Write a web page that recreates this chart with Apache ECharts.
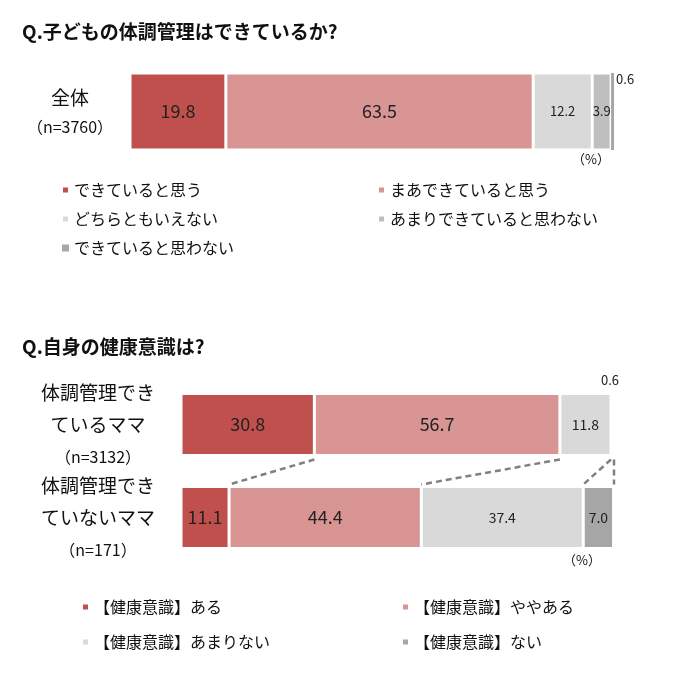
<!DOCTYPE html>
<html><head><meta charset="utf-8">
<script src="https://cdn.jsdelivr.net/npm/echarts@6/dist/echarts.min.js"></script>
<style>html,body{margin:0;background:#fff}#c{width:680px;height:678px}</style>
</head><body><div id="c"></div>
<script>
var cats1 = ['全体'];
var n1 = ['3760'];
var names1 = ['できていると思う','まあできていると思う','どちらともいえない','あまりできていると思わない','できていると思わない'];
var vals1 = [[19.8],[63.5],[12.2],[3.9],[0.6]];
var cats2 = ['体調管理できていないママ','体調管理できているママ'];
var n2 = ['171','3132'];
var names2 = ['【健康意識】ある','【健康意識】ややある','【健康意識】あまりない','【健康意識】ない'];
var vals2 = [[11.1,30.8],[44.4,56.7],[37.4,11.8],[7.0,0.6]];

var col1 = ['#c0504d','#d99594','#d9d9d9','#bfbfbf','#a6a6a6'];
var col2 = ['#c0504d','#d99594','#d9d9d9','#a6a6a6'];
var FONT = '"Noto Sans CJK JP", sans-serif';
var fmt = function(p){return Number(p.value).toFixed(1);};

var series = [];
names1.forEach(function(n,i){
  var small = vals1[i][0] < 15;
  var lab = {show:true, color:'#222', fontSize: small?13:18, fontFamily:FONT, formatter:fmt};
  if (i===4) { lab.position=[5,0]; lab.fontSize=13; }
  series.push({name:n,type:'bar',stack:'a',xAxisIndex:0,yAxisIndex:0,barWidth:77,
    data:vals1[i],itemStyle:{color:col1[i],borderColor:'#fff',borderWidth:i===4?0:1.5},label:lab});
});
names2.forEach(function(n,i){
  series.push({name:n,type:'bar',stack:'b',xAxisIndex:1,yAxisIndex:1,barWidth:62,
    data:vals2[i].map(function(v,j){
      var fs = (i===2||i===3) ? 14 : 18;
      var o = {value:v,label:{show:true,color:'#222',fontSize:fs,fontFamily:FONT,formatter:fmt}};
      if (i===3 && j===1) { o.label.position=[-10,-20]; o.label.fontSize=13; }
      return o;
    }),
    itemStyle:{color:col2[i],borderColor:'#fff',borderWidth:1.5}});
});

var chart = echarts.init(document.getElementById('c'));
var cmap = {};
names1.forEach(function(n,i){cmap[n]=col1[i];});
names2.forEach(function(n,i){cmap[n]=col2[i];});
var lg = function(names, left, top, gap){
  return {data:names.map(function(n){return {name:n,itemStyle:{color:cmap[n]}};}),
    left:left, top:top, orient:'vertical', itemGap:gap, itemWidth:7, itemHeight:7, icon:'rect',
    selectedMode:false, textStyle:{fontSize:16,color:'#111',fontFamily:FONT}};
};

chart.setOption({
  animation:false,
  textStyle:{fontFamily:FONT},
  grid:[{left:130,width:484,top:73,height:77},{left:181,width:433,top:378,height:186}],
  xAxis:[{gridIndex:0,type:'value',min:0,max:100,show:false},{gridIndex:1,type:'value',min:0,max:100,show:false}],
  yAxis:[
    {gridIndex:0,type:'category',data:cats1,axisLine:{show:false},axisTick:{show:false},offset:40,
     axisLabel:{margin:20,align:'center',formatter:function(v,i){return '{a|'+v+'}\n{b|（n='+n1[i]+'）}';},
       rich:{a:{fontSize:19,color:'#111',lineHeight:30},b:{fontSize:16,color:'#111',lineHeight:28}}}},
    {gridIndex:1,type:'category',data:cats2,axisLine:{show:false},axisTick:{show:false},offset:75,
     axisLabel:{align:'center',formatter:function(v,i){var s=v.slice(0,6), t=v.slice(6);return '{a|'+s+'}\n{a|'+t+'}\n{b|（n='+n2[i]+'）}';},
       rich:{a:{fontSize:19,color:'#111',lineHeight:32},b:{fontSize:16,color:'#111',lineHeight:32}}}}
  ],
  legend:[
    lg([names1[0],names1[2],names1[4]],56,177,13),
    lg([names1[1],names1[3]],372,177,13),
    lg([names2[0],names2[2]],76,594,19),
    lg([names2[1],names2[3]],396,594,19)
  ],
  series:series,
  graphic:[
    {type:'text',left:22,top:22,style:{text:'Q.子どもの体調管理はできているか?',fontSize:19,fontWeight:'bold',fill:'#111',fontFamily:FONT}},
    {type:'text',left:22,top:337,style:{text:'Q.自身の健康意識は?',fontSize:19,fontWeight:'bold',fill:'#111',fontFamily:FONT}},
    {type:'text',left:572,top:153,style:{text:'（%）',fontSize:13,fill:'#111',fontFamily:FONT}},
    {type:'text',left:563,top:554,style:{text:'（%）',fontSize:13,fill:'#111',fontFamily:FONT}}
  ]
});

var cum = function(j,k){var s=0;for(var i=0;i<k;i++)s+=vals2[i][j];return s;};
var yTop = chart.convertToPixel({yAxisIndex:1},1) + 31 + 4;
var yBot = chart.convertToPixel({yAxisIndex:1},0) - 31 - 2;
var lines = [];
[1,2,3,4].forEach(function(k){
  var x1 = chart.convertToPixel({xAxisIndex:1},cum(1,k));
  var x2 = chart.convertToPixel({xAxisIndex:1},cum(0,k));
  if (k===4) x1 = x2 = chart.convertToPixel({xAxisIndex:1},100);
  lines.push({type:'line',id:'ln'+k,shape:{x1:x1,y1:yTop,x2:x2,y2:yBot},style:{stroke:'#808080',lineWidth:2.5,lineDash:[6,4]}});
});
chart.setOption({graphic:lines});
</script></body></html>
